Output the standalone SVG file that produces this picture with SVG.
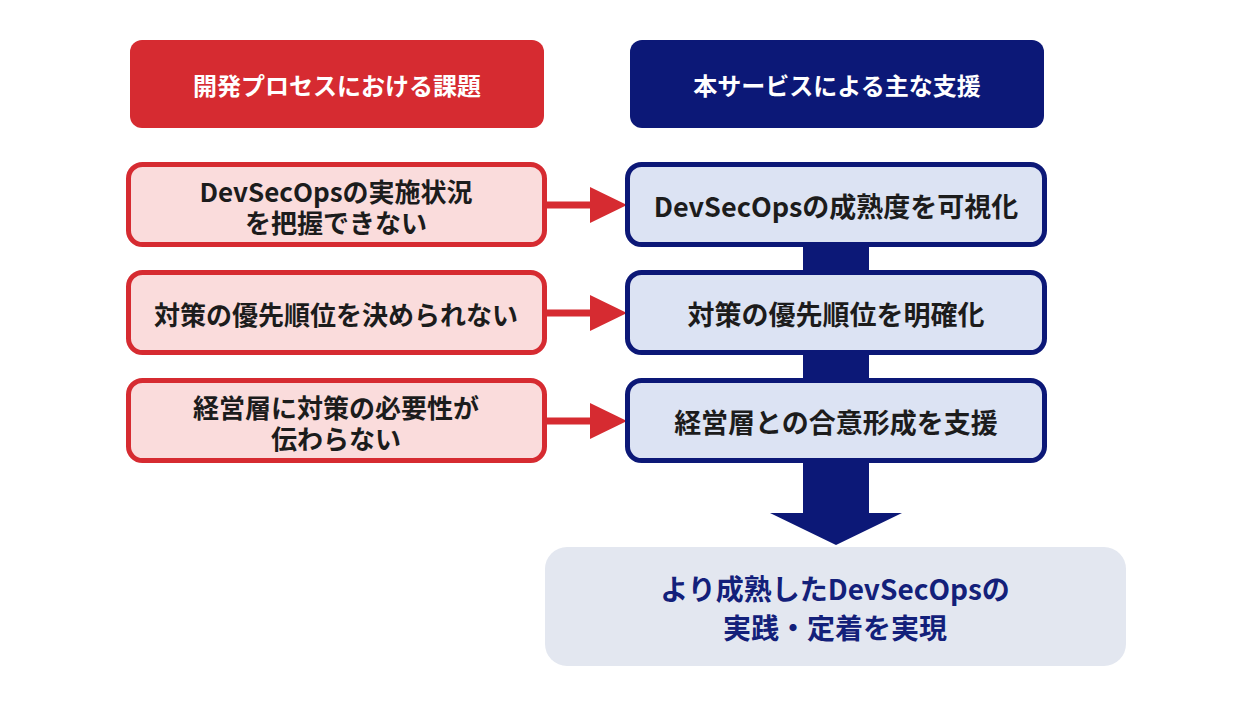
<svg xmlns="http://www.w3.org/2000/svg" width="1248" height="702" viewBox="0 0 1248 702">
<style>
text{font-family:"Noto Sans CJK JP","Noto Sans",sans-serif;font-weight:bold;text-anchor:middle;dominant-baseline:central}
.hdr{font-size:24px;fill:#ffffff}
.rbox{fill:#fadcdc;stroke:#d62b31;stroke-width:5}
.bbox{fill:#dce3f3;stroke:#0c1877;stroke-width:5}
.t{font-size:26px;fill:#1c1c1c}
.tb{font-size:27px;fill:#1c1c1c}
.fin{font-size:28px;fill:#13207a}
.red{fill:#d62b31}
.navy{fill:#0c1877}
</style>
<rect width="1248" height="702" fill="#ffffff"/>
<g id="connectors">
<g id="red-arrows" class="red">
<rect x="546" y="201.5" width="46" height="7"/>
<polygon points="590,187 627,205 590,223"/>
<rect x="546" y="309.5" width="46" height="7"/>
<polygon points="590,295 627,313 590,331"/>
<rect x="546" y="417.5" width="46" height="7"/>
<polygon points="590,403 627,421 590,439"/>
</g>
<g id="blue-flow" class="navy">
<rect x="803" y="240" width="66" height="40"/>
<rect x="803" y="348" width="66" height="40"/>
<rect x="803" y="455" width="66" height="60"/>
<polygon points="770,513 902,513 836,545"/>
</g>
</g>
<g id="header-issues">
<rect x="130" y="40" width="414" height="88" rx="12" class="red"/>
<text x="337" y="84" class="hdr">開発プロセスにおける課題</text>
</g>
<g id="header-support">
<rect x="630" y="40" width="414" height="88" rx="12" class="navy"/>
<text x="837" y="84" class="hdr">本サービスによる主な支援</text>
</g>
<g id="issue-1">
<rect x="128.5" y="164.5" width="416" height="80" rx="14" class="rbox"/>
<text class="t"><tspan x="336" y="190">DevSecOpsの実施状況</tspan><tspan x="336" y="221">を把握できない</tspan></text>
</g>
<g id="issue-2">
<rect x="128.5" y="272.5" width="416" height="80" rx="14" class="rbox"/>
<text x="336" y="313" class="t">対策の優先順位を決められない</text>
</g>
<g id="issue-3">
<rect x="128.5" y="380.5" width="416" height="80" rx="14" class="rbox"/>
<text class="t"><tspan x="336" y="406">経営層に対策の必要性が</tspan><tspan x="336" y="437">伝わらない</tspan></text>
</g>
<g id="support-1">
<rect x="627.5" y="164.5" width="417" height="80" rx="14" class="bbox"/>
<text x="836" y="205" class="tb">DevSecOpsの成熟度を可視化</text>
</g>
<g id="support-2">
<rect x="627.5" y="272.5" width="417" height="80" rx="14" class="bbox"/>
<text x="836" y="313" class="tb">対策の優先順位を明確化</text>
</g>
<g id="support-3">
<rect x="627.5" y="380.5" width="417" height="80" rx="14" class="bbox"/>
<text x="836" y="421" class="tb">経営層との合意形成を支援</text>
</g>
<g id="result">
<rect x="545" y="547" width="581" height="119" rx="22" fill="#e3e7f0"/>
<text class="fin"><tspan x="835" y="588">より成熟したDevSecOpsの</tspan><tspan x="835" y="627">実践・定着を実現</tspan></text>
</g>
</svg>
